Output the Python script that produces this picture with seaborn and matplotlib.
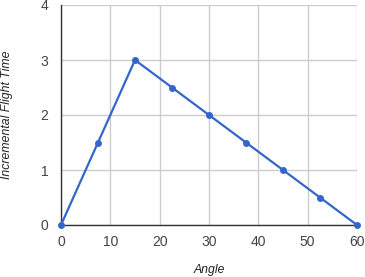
import matplotlib
matplotlib.use("Agg")
import matplotlib.pyplot as plt
import seaborn as sns
import pandas as pd

angles = [0, 7.5, 15, 22.5, 30, 37.5, 45, 52.5, 60]
flight_time = [0, 1.5, 3, 2.5, 2, 1.5, 1, 0.5, 0]
x_ticks = [0, 10, 20, 30, 40, 50, 60]
y_ticks = [0, 1, 2, 3, 4]

sns.set_style("white")
plt.rcParams['font.family'] = ['Liberation Sans', 'DejaVu Sans']

df = pd.DataFrame({"Angle": angles, "Incremental Flight Time": flight_time})

fig = plt.figure(figsize=(3.65, 2.77), dpi=100)
ax = fig.add_axes([61/365, 52/277, 296/365, 220/277])
sns.lineplot(data=df, x="Angle", y="Incremental Flight Time", ax=ax,
             color="#3366cc", linewidth=1.6, marker="o", markersize=5,
             markeredgewidth=0, clip_on=False, zorder=3)

ax.set_xlim(0, 60)
ax.set_ylim(0, 4)
ax.set_xticks(x_ticks)
ax.set_yticks(y_ticks)
ax.grid(True, color="#cccccc", linewidth=1)
ax.set_axisbelow(True)
for s in ["top", "right"]:
    ax.spines[s].set_visible(False)
for s in ["left", "bottom"]:
    ax.spines[s].set_color("#333333")
    ax.spines[s].set_linewidth(1)
    ax.spines[s].set_zorder(2)
ax.tick_params(axis="both", length=0, labelsize=10, labelcolor="#444444")
ax.tick_params(axis="y", pad=9)
ax.tick_params(axis="x", pad=7)
ax.set_xlabel("Angle", fontsize=8.8, fontstyle="italic", color="#222222")
ax.set_ylabel("Incremental Flight Time", fontsize=8.8, fontstyle="italic", color="#222222")
ax.xaxis.set_label_coords(0.5, -45/220)
ax.xaxis.label.set_va("center")
ax.yaxis.set_label_coords(-54/296, 0.5)
ax.yaxis.label.set_va("center")

fig.savefig("out.png", dpi=100)
